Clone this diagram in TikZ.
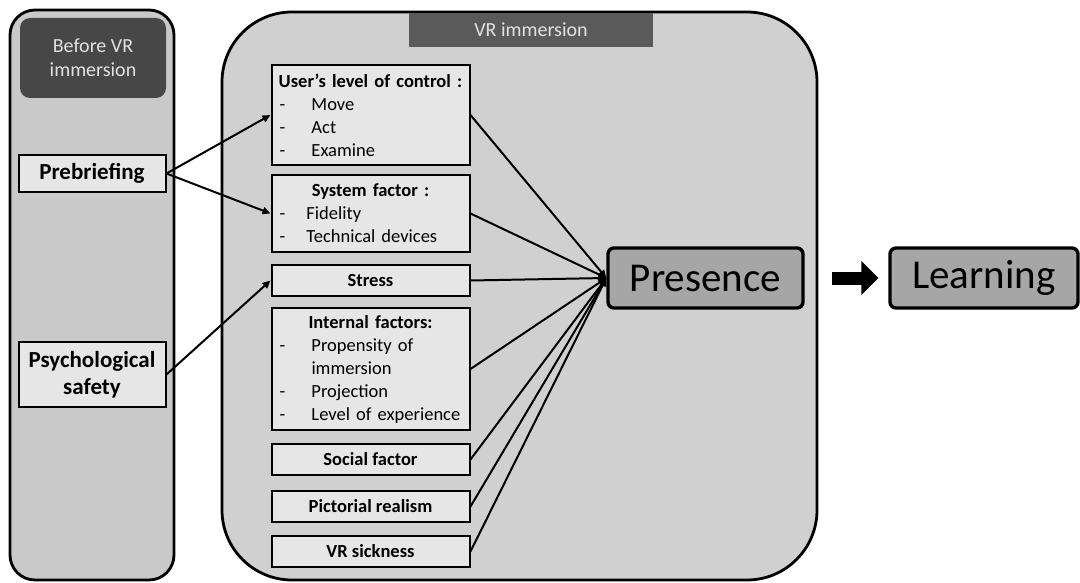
\documentclass[tikz,border=0pt]{standalone}
\usepackage{fontspec}
\setmainfont{Carlito}
\usetikzlibrary{arrows.meta, positioning}
\definecolor{sidegray}{HTML}{C9C9C9}
\definecolor{vrgray}{HTML}{D0D0D0}
\definecolor{boxgray}{HTML}{E6E6E6}
\definecolor{darklabel}{HTML}{474747}
\definecolor{vrlabel}{HTML}{5A5A5A}
\definecolor{labeltext}{HTML}{E2E2E2}
\definecolor{presgray}{HTML}{A6A6A6}
\newcommand*{\dashitem}[2][32pt]{\makebox[#1][l]{-}#2}
\newcommand*{\boxhead}[1]{\makebox[182pt][c]{\textbf{#1}}}

\begin{document}
\begin{tikzpicture}[x=1pt,y=-1pt,>={Triangle[length=8pt,width=7pt]},
      panel/.style={draw,line width=2.8pt},
      % labels on top of the two panels
      phase/.style={fill=darklabel,text=labeltext,font=\fontsize{20}{24}\selectfont,align=center,inner sep=0pt},
      factor/.style={draw,fill=boxgray,line width=2pt,minimum width=198pt,inner sep=0pt,
        font=\fontsize{18.5}{23}\selectfont},
      listbox/.style={factor,text width=182pt,align=left},
      leftbox/.style={draw,fill=boxgray,line width=2pt,minimum width=147pt,inner sep=0pt,
        font=\bfseries\fontsize{23}{27}\selectfont,align=center},
      outcome/.style={draw,fill=presgray,line width=3.4pt,rounded corners=6pt,minimum height=60pt,
        inner sep=0pt,font=\fontsize{41}{48}\selectfont},
      link/.style={->,line width=2pt}]
  \useasboundingbox (0,0) rectangle (1080,583);

  % the two panels
  \draw[panel,fill=sidegray,rounded corners=25pt] (10,10) rectangle (174,580);
  \draw[panel,fill=vrgray,rounded corners=70pt] (222,12) rectangle (817,580);
  \node[phase,rounded corners=10pt,minimum width=146pt,minimum height=80pt] (before) at (93,58) {Before VR\\immersion};
  \node[phase,fill=vrlabel,minimum width=244pt,minimum height=34pt] (during) at (531,30) {VR immersion};

  % before immersion
  \node[leftbox,minimum height=37pt] (prebrief) at (92,173.5) {Prebriefing};
  \node[leftbox,minimum height=65pt] (safety) at (92,374.5) {Psychological\\safety};

  % factors of presence
  \node[listbox,minimum height=100pt] (control) at (370.5,115)
    {\boxhead{User's level of control :}\\ \dashitem{Move}\\ \dashitem{Act}\\ \dashitem{Examine}};
  \node[listbox,minimum height=77pt] (system) at (370.5,213.5)
    {\boxhead{System factor :}\\ \dashitem[27pt]{Fidelity}\\ \dashitem[27pt]{Technical devices}};
  \node[factor,minimum height=31pt] (stress) at (370.5,280.5) {\textbf{Stress}};
  \node[listbox,minimum height=122pt] (internal) at (370.5,369)
    {\boxhead{Internal factors:}\\ \dashitem{Propensity of}\\ \hspace*{32pt}immersion\\ \dashitem{Projection}\\ \dashitem{Level of experience}};
  \node[factor,minimum height=31pt] (social) at (370.5,459.5) {\textbf{Social factor}};
  \node[factor,minimum height=31pt] (pictorial) at (370.5,506.5) {\textbf{Pictorial realism}};
  \node[factor,minimum height=31pt] (sickness) at (370.5,551.5) {\textbf{VR sickness}};

  \node[outcome,minimum width=195pt] (presence) at (705.5,278) {Presence};
  \node[outcome,minimum width=188pt] (learning) at (984,278) {Learning};

  \draw[link] (prebrief.east) -- (control.west);
  \draw[link] (prebrief.east) -- (system.west);
  \draw[link] (safety.east) -- (stress.west);
  \foreach \f in {control,system,stress,internal,social,pictorial,sickness}
    \draw[link] (\f.east) -- (presence.west);
  \draw[line width=13pt,-{Triangle[length=17pt,width=33pt]},shorten <=27pt,shorten >=10pt]
    (presence.east) -- (learning.west);
\end{tikzpicture}
\end{document}
